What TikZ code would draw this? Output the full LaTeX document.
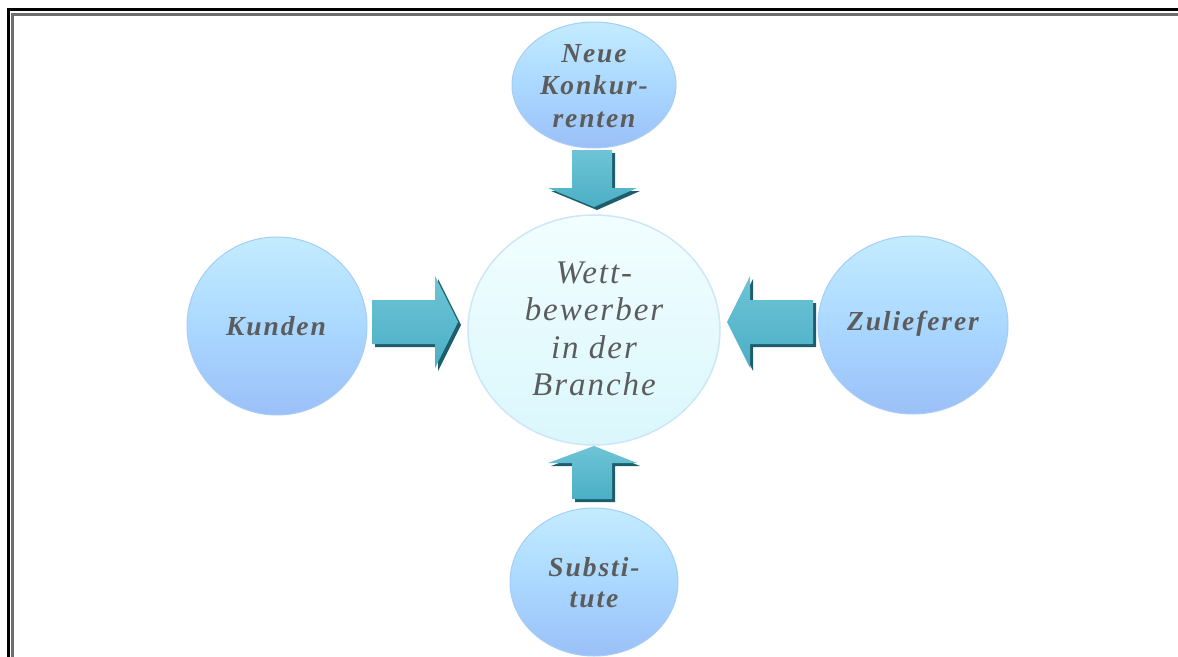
\documentclass[tikz,border=0pt]{standalone}
\usepackage{fontspec}
\usetikzlibrary{shapes.geometric}
\setmainfont{Liberation Serif}
\definecolor{txtgray}{RGB}{92,92,92}
\definecolor{arrowteal}{RGB}{75,175,197}
\definecolor{arrowlight}{RGB}{110,196,214}
\definecolor{arrowdark}{RGB}{30,94,108}
\definecolor{framegray}{RGB}{110,110,110}
\definecolor{bubtop}{RGB}{196,236,255}
\definecolor{bubmid}{RGB}{170,216,255}
\definecolor{bubbot}{RGB}{155,192,248}
\definecolor{bubedge}{RGB}{165,205,248}
\definecolor{ctrtop}{RGB}{242,254,255}
\definecolor{ctrbot}{RGB}{218,247,252}
\definecolor{ctredge}{RGB}{205,230,250}
\tikzset{
  bubble/.style={ellipse, inner sep=0pt, draw=bubedge, line width=1pt, top color=bubtop, bottom color=bubbot, middle color=bubmid},
  centerbubble/.style={ellipse, inner sep=0pt, draw=ctredge, line width=1.5pt, top color=ctrtop, bottom color=ctrbot},
  lbl/.style={text=txtgray, align=center, inner sep=0pt, font=\bfseries\itshape\fontsize{27.5}{32.5}\selectfont\addfontfeature{LetterSpace=7}},
  ctrlbl/.style={text=txtgray, align=center, inner sep=0pt, font=\itshape\fontsize{33}{37.5}\selectfont\addfontfeature{LetterSpace=6}},
  blockarrow/.style={top color=arrowlight, bottom color=arrowteal, draw=none},
  arrowshadow/.style={fill=arrowdark}
}
\begin{document}
\begin{tikzpicture}[x=1pt,y=-1pt]
\useasboundingbox (0,0) rectangle (1178,656);
\fill[white] (0,0) rectangle (1178,656);
\draw[black, line width=3pt] (8,680) -- (8,9) -- (1200,9);
\draw[framegray, line width=3.5pt] (12.5,680) -- (12.5,14.5) -- (1200,14.5);
\node[centerbubble, minimum width=252pt, minimum height=230pt] (ctr) at (594,330) {};
\node[bubble, minimum width=164pt, minimum height=126pt] (neue) at (594,85) {};
\node[bubble, minimum width=180pt, minimum height=178pt] (kund) at (277,326) {};
\node[bubble, minimum width=190pt, minimum height=178pt] (zul) at (913,325) {};
\node[bubble, minimum width=168pt, minimum height=148pt] (sub) at (594,582) {};
\node[ctrlbl] (ctrT) at (594,329) {Wett-\\bewerber\\in der\\Branche};
\node[lbl] (neueT) at (594,86) {Neue\\Konkur-\\renten};
\node[lbl] (kundT) at (276,326) {Kunden};
\node[lbl] (zulT) at (913,324) {Zulieferer};
\node[lbl, font=\bfseries\itshape\fontsize{27.5}{31}\selectfont\addfontfeature{LetterSpace=7}] (subT) at (594,583) {Substi-\\tute};
\fill[arrowshadow, shift={(3,3)}] (372,300) -- (435,300) -- (435,276) -- (458,322) -- (435,368) -- (435,344) -- (372,344) -- cycle;
\path[blockarrow] (372,300) -- (435,300) -- (435,276) -- (458,322) -- (435,368) -- (435,344) -- (372,344) -- cycle;
\fill[arrowshadow, shift={(3,3)}] (813,300) -- (750,300) -- (750,276) -- (727,322) -- (750,368) -- (750,344) -- (813,344) -- cycle;
\path[blockarrow] (813,300) -- (750,300) -- (750,276) -- (727,322) -- (750,368) -- (750,344) -- (813,344) -- cycle;
\fill[arrowshadow, shift={(3,3)}] (572,150) -- (612,150) -- (612,188) -- (637,188) -- (594,207) -- (548,188) -- (572,188) -- cycle;
\path[blockarrow] (572,150) -- (612,150) -- (612,188) -- (637,188) -- (594,207) -- (548,188) -- (572,188) -- cycle;
\fill[arrowshadow, shift={(3,3)}] (594,446) -- (637,463) -- (612,463) -- (612,499) -- (572,499) -- (572,463) -- (548,463) -- cycle;
\path[blockarrow] (594,446) -- (637,463) -- (612,463) -- (612,499) -- (572,499) -- (572,463) -- (548,463) -- cycle;
\end{tikzpicture}
\end{document}
